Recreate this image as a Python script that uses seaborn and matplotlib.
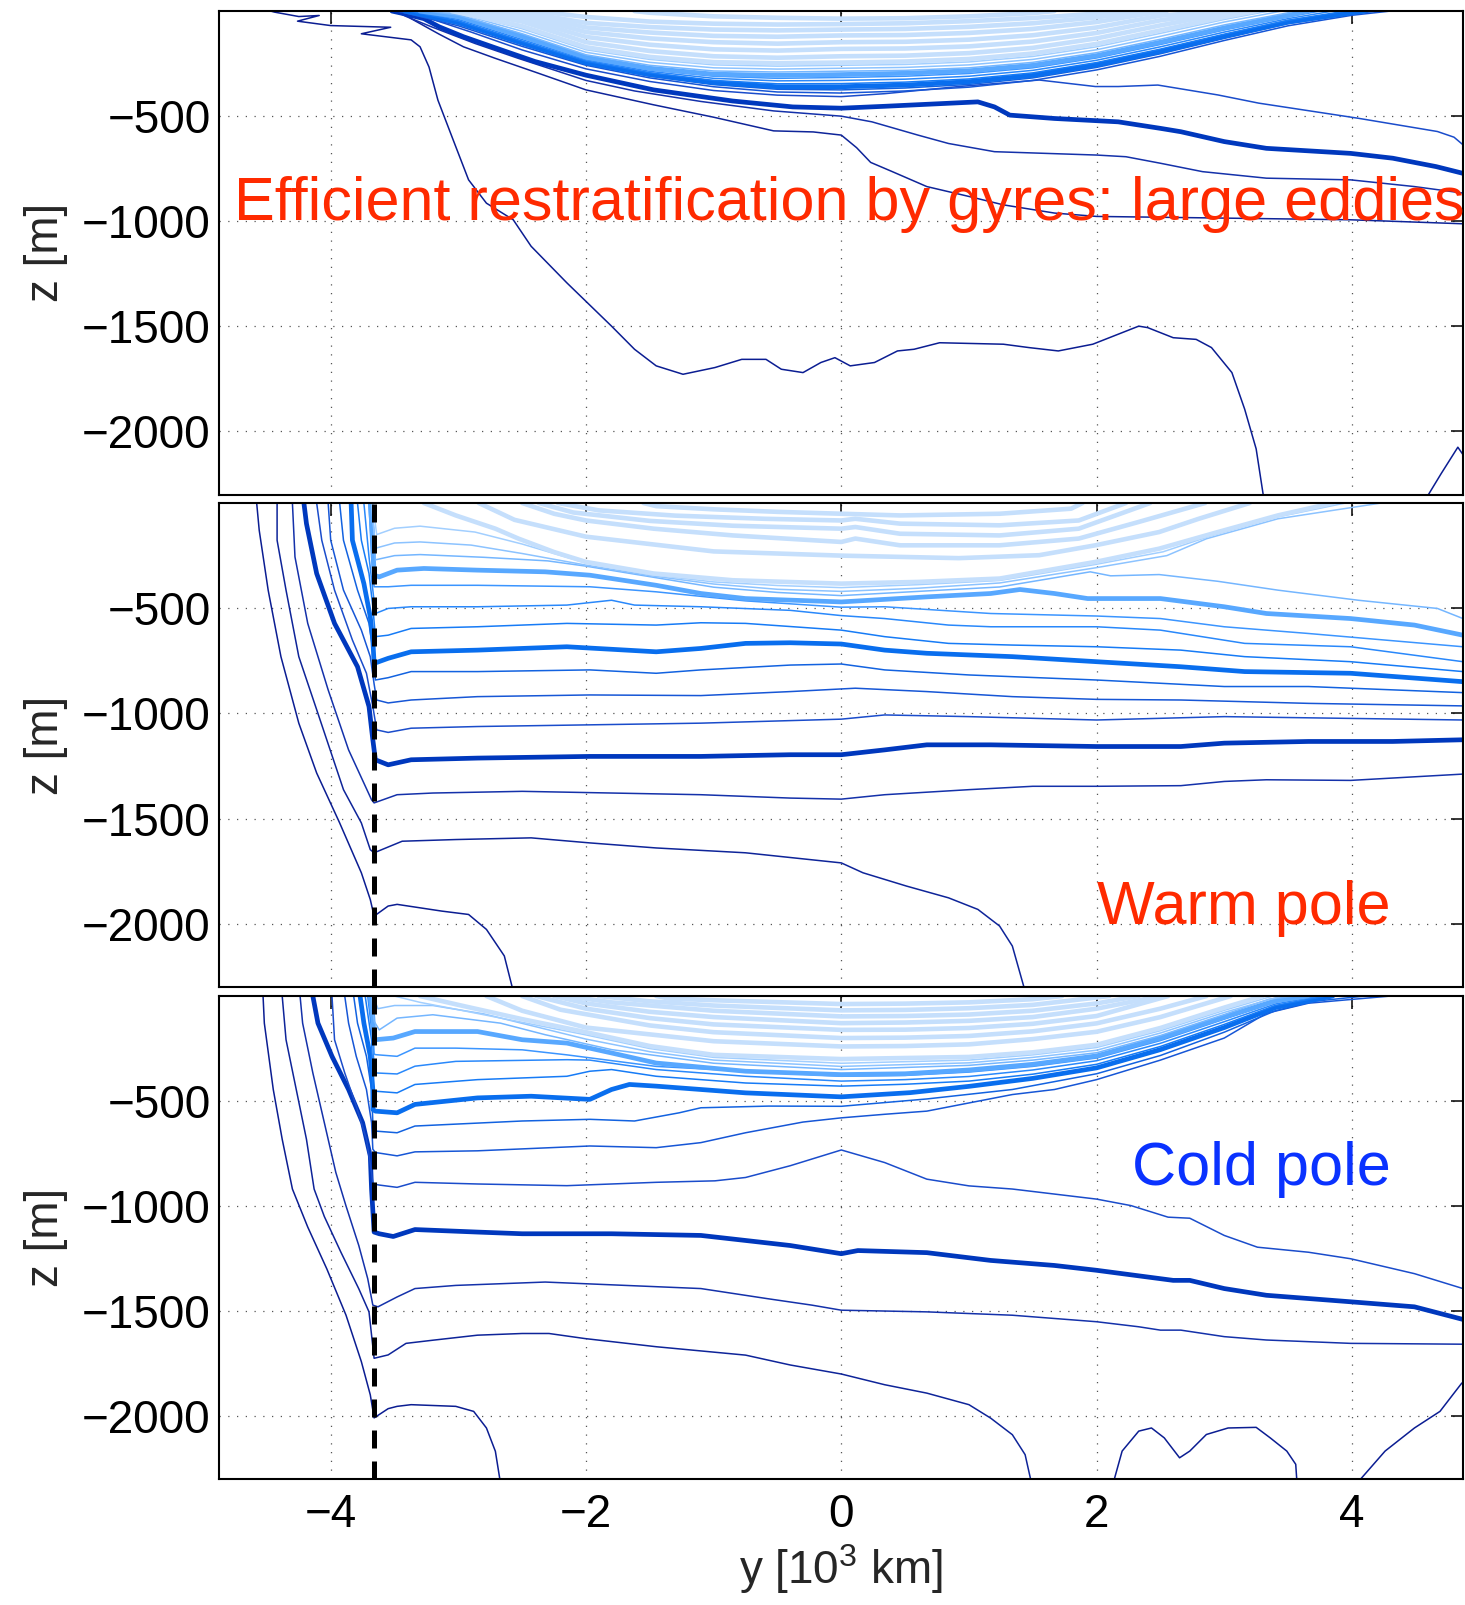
import numpy as np
import pandas as pd
import seaborn as sns
import matplotlib.pyplot as plt

# contour lines: (y [1e3 km], z [m]) points, one list per line
# level numbers go from deep (-1) to shallow (21)

# ---- top panel ----
P1_LEVELS = [-1, -1, 0, 1, 2, 3]
P1_LINES = [
    [(4.58, -2320), (4.70, -2200), (4.83, -2075), (4.87, -2110)],
    [(-4.47, 0), (-4.44, -5), (-4.25, -26), (-4.09, -21), (-4.26, -48), (-4.0, -69), (-3.53, -77),
     (-3.76, -108), (-3.37, -137), (-3.30, -170), (-3.23, -266), (-3.16, -424), (-3.04, -614),
     (-2.92, -803), (-2.78, -914), (-2.57, -993), (-2.43, -1119), (-2.15, -1293), (-1.80, -1499),
     (-1.62, -1609), (-1.45, -1688), (-1.24, -1728), (-0.99, -1696), (-0.78, -1657), (-0.59, -1657),
     (-0.47, -1704), (-0.30, -1720), (-0.16, -1672), (-0.05, -1649), (0.07, -1688), (0.26, -1672),
     (0.44, -1617), (0.57, -1609), (0.77, -1578), (1.27, -1585), (1.47, -1601), (1.70, -1617),
     (1.97, -1585), (2.33, -1499), (2.40, -1506), (2.60, -1554), (2.78, -1562), (2.90, -1601),
     (3.06, -1720), (3.16, -1894), (3.25, -2083), (3.31, -2320)],
    [(-3.45, 0), (-3.37, -36), (-3.15, -110), (-2.96, -170), (-2.71, -225), (-2.40, -290), (-2.0, -375),
     (-1.47, -446), (-1.0, -505), (-0.53, -570), (-0.22, -575), (0.0, -590), (0.12, -650), (0.23, -720),
     (0.40, -764), (0.67, -835), (1.0, -882), (1.27, -922), (1.67, -961), (2.0, -977), (3.0, -985),
     (3.99, -993), (4.87, -1012)],
    [(-3.50, 0), (-3.40, -28), (-3.21, -75), (-2.87, -154), (-2.53, -225), (-2.0, -330), (-1.62, -380),
     (-1.10, -430), (-0.53, -475), (0.0, -500), (0.24, -527), (0.60, -590), (0.84, -630), (1.20, -669),
     (2.0, -685), (2.23, -693), (2.50, -724), (2.83, -764), (3.33, -795), (3.99, -803), (4.49, -835),
     (4.87, -866)],
    [(-3.52, 0), (-3.43, -12), (-3.27, -36), (-3.15, -75), (-2.96, -122), (-2.71, -175), (-2.40, -240),
     (-2.0, -305), (-1.47, -375), (-0.85, -428), (-0.38, -456), (0.0, -462), (0.34, -453), (1.07, -432),
     (1.20, -456), (1.32, -495), (1.67, -511), (2.17, -527), (2.50, -558), (2.66, -574), (3.0, -621),
     (3.33, -653), (3.99, -677), (4.32, -700), (4.66, -740), (4.87, -772)],
    [(-3.48, 0), (-3.2, -40), (-2.9, -100), (-2.5, -185), (-2.0, -275), (-1.5, -335), (-1.0, -378),
     (-0.5, -400), (0.0, -407), (0.34, -393), (0.92, -359), (1.55, -328), (1.99, -359), (2.17, -359),
     (2.48, -352), (2.95, -399), (3.27, -438), (4.05, -510), (4.67, -573), (4.80, -600), (4.87, -636)],
]

# the packed upper lines of the top panel, z at fixed y columns (None = above the surface)
P1_BUNDLE_X = [-3.0, -2.5, -2.0, -1.5, -1.0, -0.5, 0.0, 0.5, 1.0, 1.5, 2.0, 2.5, 3.0, 3.5, 4.0]
P1_BUNDLE_LEVELS = list(range(4, 22))
P1_BUNDLE_WEST = [-3.47, -3.45, -3.42, -3.39, -3.36, -3.33, -3.30, -3.25, -3.20, -3.15, -3.05,
                  -2.95, -2.85, -2.70, -2.62, -2.57, -2.40, -1.62]
P1_BUNDLE_EAST = [4.30, 4.20, 4.10, 3.95, 3.85, 3.75, 3.65, 3.55, 3.45, 3.35, 3.25,
                  3.15, 3.05, 2.95, 2.55, 2.39, 2.27, 1.67]
P1_BUNDLE_Z = [
    [-70, -168, -258, -318, -360, -385, -390, -380, -362, -330, -280, -215, -140, -70, -20],
    [-62, -160, -252, -310, -350, -372, -375, -366, -349, -318, -268, -203, -130, -60, -14],
    [-55, -152, -246, -302, -340, -360, -360, -352, -336, -306, -256, -192, -120, -52, -8],
    [-48, -144, -238, -294, -330, -346, -345, -338, -323, -294, -245, -181, -110, -44, None],
    [-40, -136, -232, -287, -320, -332, -330, -324, -310, -282, -234, -170, -100, -36, None],
    [-33, -128, -226, -280, -310, -320, -316, -310, -297, -270, -223, -159, -90, -28, None],
    [-26, -120, -220, -272, -300, -306, -302, -296, -284, -258, -212, -148, -80, -20, None],
    [-19, -108, -208, -258, -285, -290, -286, -282, -270, -244, -198, -134, -66, -8, None],
    [-12, -96, -196, -244, -270, -276, -272, -268, -256, -230, -184, -120, -52, None, None],
    [-6, -84, -184, -230, -256, -262, -258, -254, -242, -216, -170, -106, -40, None, None],
    [None, -72, -172, -218, -243, -248, -245, -240, -228, -202, -156, -92, -28, None, None],
    [None, -50, -148, -190, -215, -222, -215, -212, -200, -175, -130, -68, -12, None, None],
    [None, -35, -123, -160, -182, -188, -180, -178, -168, -145, -104, -44, -4, None, None],
    [None, -20, -100, -130, -148, -155, -148, -146, -136, -115, -78, -22, None, None, None],
    [None, -8, -78, -102, -118, -122, -116, -114, -104, -85, -52, -3, None, None, None],
    [None, -5, -56, -76, -88, -92, -88, -85, -75, -58, -30, None, None, None, None],
    [None, None, -28, -50, -60, -64, -62, -58, -48, -33, -12, None, None, None, None],
    [None, None, None, -8, -25, -32, -36, -34, -25, -10, None, None, None, None, None],
]

# ---- middle panel (warm pole) ----
P2_LEVELS = [-1, 0, 1, 2, 3, 4, 5, 6, 7, 8, 9, 10, 11, 12, 13, 14, 15, 16, 17, 18, 19]
P2_LINES = [
    [(-4.58, 0), (-4.56, -130), (-4.49, -414), (-4.39, -730), (-4.25, -1046), (-4.11, -1283),
     (-3.93, -1520), (-3.76, -1757), (-3.69, -1884), (-3.66, -1963), (-3.55, -1915), (-3.48, -1907),
     (-3.13, -1939), (-2.92, -1955), (-2.78, -2026), (-2.64, -2152), (-2.57, -2320)],
    [(-4.42, 0), (-4.42, -177), (-4.35, -414), (-4.25, -730), (-4.10, -1000), (-3.90, -1362),
     (-3.76, -1520), (-3.69, -1647), (-3.66, -1662), (-3.44, -1607), (-3.02, -1599), (-2.43, -1591),
     (-1.97, -1615), (-1.45, -1639), (-0.75, -1662), (0.0, -1710), (0.17, -1757), (0.51, -1820),
     (0.84, -1876), (1.07, -1931), (1.24, -2010), (1.34, -2105), (1.44, -2320)],
    [(-4.30, 0), (-4.28, -256), (-4.18, -572), (-4.02, -888), (-3.86, -1173), (-3.74, -1331),
     (-3.68, -1410), (-3.66, -1425), (-3.48, -1386), (-3.20, -1378), (-2.50, -1370), (-1.80, -1378),
     (-1.10, -1386), (-0.40, -1402), (0.0, -1407), (0.34, -1386), (1.0, -1362), (1.50, -1346),
     (2.0, -1346), (2.66, -1343), (3.0, -1323), (3.33, -1315), (3.99, -1318), (4.87, -1288)],
    [(-4.21, 0), (-4.19, -98), (-4.11, -335), (-3.97, -572), (-3.79, -778), (-3.70, -967),
     (-3.67, -1125), (-3.65, -1220), (-3.55, -1244), (-3.37, -1220), (-2.85, -1212), (-1.97, -1204),
     (-1.10, -1204), (-0.40, -1196), (0.0, -1196), (0.34, -1173), (0.67, -1149), (1.17, -1149),
     (2.0, -1157), (2.66, -1157), (3.0, -1141), (3.66, -1133), (4.32, -1133), (4.87, -1125)],
    [(-4.11, 0), (-4.07, -177), (-3.97, -414), (-3.83, -651), (-3.72, -809), (-3.67, -967),
     (-3.64, -1078), (-3.55, -1090), (-3.37, -1070), (-2.85, -1062), (-1.97, -1054), (-1.10, -1046),
     (0.0, -1027), (0.34, -1007), (1.0, -1015), (2.0, -1031), (3.0, -1015), (4.87, -1031)],
    [(-4.02, 0), (-4.0, -177), (-3.90, -414), (-3.76, -604), (-3.69, -730), (-3.66, -860),
     (-3.64, -936), (-3.55, -950), (-3.37, -936), (-2.85, -920), (-1.97, -912), (-1.10, -915),
     (-0.40, -896), (0.11, -880), (0.67, -896), (1.34, -920), (2.0, -933), (2.66, -936),
     (3.66, -952), (4.87, -964)],
    [(-3.93, 0), (-3.90, -177), (-3.79, -414), (-3.70, -572), (-3.67, -699), (-3.65, -841),
     (-3.55, -830), (-3.37, -801), (-2.85, -801), (-1.97, -793), (-1.45, -809), (-1.10, -793),
     (-0.40, -770), (0.0, -765), (0.34, -793), (1.0, -817), (2.0, -841), (3.0, -872), (3.66, -872),
     (4.87, -901)],
    [(-3.84, 0), (-3.83, -177), (-3.74, -383), (-3.69, -541), (-3.67, -651), (-3.66, -762),
     (-3.55, -738), (-3.37, -707), (-2.85, -699), (-2.15, -683), (-1.45, -707), (-1.10, -691),
     (-0.75, -667), (-0.40, -664), (0.0, -670), (0.34, -699), (0.67, -714), (1.34, -730), (2.0, -754),
     (2.66, -778), (3.16, -801), (3.99, -809), (4.87, -849)],
    [(-3.79, 0), (-3.76, -177), (-3.70, -335), (-3.67, -493), (-3.65, -635), (-3.55, -628),
     (-3.37, -596), (-2.85, -588), (-2.15, -572), (-1.45, -580), (-1.10, -569), (-0.75, -572),
     (0.0, -604), (0.34, -635), (0.84, -667), (1.34, -675), (2.0, -683), (2.66, -699), (3.16, -730),
     (3.99, -754), (4.87, -801)],
    [(-3.74, 0), (-3.70, -256), (-3.67, -414), (-3.65, -525), (-3.55, -501), (-3.37, -493),
     (-2.85, -493), (-2.15, -485), (-1.80, -462), (-1.62, -485), (-1.10, -493), (-0.40, -510),
     (0.0, -535), (0.34, -549), (0.84, -580), (1.17, -588), (2.0, -588), (2.50, -604), (3.16, -667),
     (3.99, -683), (4.87, -754)],
    [(-3.70, 0), (-3.68, -256), (-3.66, -398), (-3.55, -398), (-3.37, -391), (-2.85, -391),
     (-1.97, -398), (-1.45, -422), (-0.75, -465), (0.0, -495), (0.34, -493), (1.17, -525),
     (2.0, -537), (2.50, -549), (3.0, -588), (3.66, -620), (4.87, -683)],
    [(-3.69, 0), (-3.67, -177), (-3.66, -343), (-3.62, -351), (-3.48, -319), (-3.27, -311),
     (-2.85, -319), (-2.32, -327), (-1.97, -343), (-1.45, -391), (-1.10, -430), (-0.75, -454),
     (0.0, -470), (0.67, -446), (1.17, -430), (1.40, -411), (1.67, -430), (1.93, -454), (2.50, -454),
     (3.0, -493), (3.33, -525), (3.99, -549), (4.49, -580), (4.87, -628)],
    [(-3.68, 0), (-3.66, -150), (-3.65, -270), (-3.5, -250), (-3.3, -245), (-2.8, -258), (-2.3, -275),
     (-2.0, -300), (-1.5, -350), (-1.0, -400), (-0.5, -425), (0.0, -440), (0.6, -420), (1.24, -399),
     (1.95, -327), (2.11, -346), (2.49, -340), (2.95, -372), (3.42, -414), (4.05, -462), (4.67, -501),
     (4.87, -549)],
    [(-3.68, 0), (-3.65, -215), (-3.5, -190), (-3.3, -185), (-2.9, -200), (-2.5, -240), (-2.0, -295),
     (-1.5, -345), (-1.0, -385), (-0.5, -410), (0.0, -420), (0.6, -405), (1.24, -380), (1.99, -308),
     (2.55, -250), (2.86, -170), (3.42, -75), (4.23, 0)],
    [(-3.67, 0), (-3.64, -150), (-3.5, -120), (-3.3, -110), (-2.87, -138), (-2.5, -195), (-2.0, -285),
     (-1.5, -340), (-1.0, -375), (-0.5, -392), (0.0, -402), (0.6, -388), (1.24, -368), (1.99, -292),
     (2.52, -232), (2.9, -155), (3.42, -66), (3.95, 0)],
    [(-3.27, 0), (-3.02, -59), (-2.71, -122), (-2.53, -169), (-2.25, -233), (-2.0, -280),
     (-1.47, -335), (-0.85, -367), (0.0, -383), (0.6, -375), (1.24, -359), (1.99, -280),
     (2.49, -217), (2.95, -138), (3.42, -59), (3.85, 0)],
    [(-2.84, 0), (-2.56, -80), (-2.0, -160), (-1.0, -230), (0.0, -250), (0.92, -262), (1.55, -248),
     (1.99, -201), (2.49, -138), (2.80, -75), (3.2, 0)],
    [(-2.50, 0), (-2.25, -51), (-2.0, -83), (-1.47, -122), (-0.85, -154), (0.0, -185), (0.11, -169),
     (0.46, -201), (1.24, -201), (1.86, -169), (2.33, -90), (2.85, 0)],
    [(-2.37, 0), (-2.1, -45), (-1.5, -85), (-0.85, -108), (0.0, -122), (0.11, -114), (0.46, -146),
     (1.24, -154), (1.86, -122), (2.42, 0)],
    [(-2.22, 0), (-1.9, -35), (-1.3, -60), (-0.6, -75), (0.0, -83), (0.11, -75), (0.46, -98),
     (1.24, -106), (1.86, -83), (2.23, 0)],
    [(-1.55, 0), (-1.45, -15), (-1.0, -30), (-0.5, -42), (0.0, -51), (0.46, -59), (1.24, -51),
     (1.80, -27), (1.89, 0)],
]

# ---- bottom panel (cold pole) ----
P3_LEVELS = [-1, -1, -1, 0, 1, 2, 3, 4, 5, 6, 7, 8, 9, 10, 11, 12, 13, 14,
             15, 16, 17, 18, 19, 20, 21]
P3_LINES = [
    [(2.13, -2320), (2.20, -2167), (2.33, -2072), (2.43, -2057), (2.53, -2104), (2.65, -2199),
     (2.73, -2167), (2.86, -2088), (3.03, -2057), (3.25, -2054), (3.36, -2104), (3.49, -2167),
     (3.56, -2230), (3.57, -2320)],
    [(4.04, -2320), (4.26, -2167), (4.49, -2057), (4.69, -1978), (4.79, -1899), (4.86, -1844),
     (4.88, -1836)],
    [(-4.53, 0), (-4.52, -129), (-4.45, -445), (-4.38, -682), (-4.30, -919), (-4.18, -1100),
     (-4.03, -1300), (-3.88, -1520), (-3.76, -1741), (-3.69, -1899), (-3.66, -2009), (-3.55, -1965),
     (-3.48, -1954), (-3.37, -1946), (-3.02, -1954), (-2.88, -1978), (-2.78, -2057), (-2.71, -2168),
     (-2.67, -2320)],
    [(-4.38, 0), (-4.35, -208), (-4.27, -445), (-4.19, -682), (-4.13, -919), (-4.05, -1050),
     (-3.92, -1220), (-3.78, -1394), (-3.70, -1504), (-3.66, -1725), (-3.55, -1709), (-3.41, -1654),
     (-3.20, -1639), (-2.85, -1615), (-2.50, -1607), (-2.29, -1607), (-2.01, -1631), (-1.45, -1670),
     (-0.75, -1710), (-0.40, -1757), (0.0, -1800), (0.34, -1851), (0.67, -1891), (1.0, -1946),
     (1.17, -2010), (1.34, -2089), (1.44, -2184), (1.49, -2320)],
    [(-4.24, 0), (-4.22, -129), (-4.14, -366), (-4.05, -603), (-3.96, -840), (-3.88, -1000),
     (-3.78, -1188), (-3.71, -1346), (-3.67, -1472), (-3.63, -1480), (-3.48, -1433), (-3.34, -1393),
     (-3.02, -1378), (-2.32, -1362), (-1.10, -1393), (-0.58, -1441), (-0.23, -1472), (0.0, -1496),
     (0.67, -1504), (1.34, -1520), (2.0, -1551), (2.33, -1575), (2.50, -1591), (2.66, -1591),
     (3.0, -1622), (3.33, -1638), (3.99, -1654), (4.87, -1658)],
    [(-4.14, 0), (-4.10, -129), (-3.99, -287), (-3.86, -445), (-3.75, -603), (-3.69, -761),
     (-3.68, -919), (-3.66, -1124), (-3.62, -1132), (-3.51, -1145), (-3.34, -1112), (-2.85, -1124),
     (-2.50, -1132), (-1.80, -1132), (-1.10, -1140), (-0.40, -1188), (0.0, -1227), (0.13, -1212),
     (0.67, -1222), (1.17, -1259), (1.67, -1283), (2.0, -1306), (2.60, -1354), (2.73, -1354),
     (3.0, -1393), (3.33, -1425), (3.99, -1456), (4.49, -1480), (4.87, -1540)],
    [(-3.99, 0), (-3.97, -208), (-3.89, -366), (-3.80, -524), (-3.72, -682), (-3.68, -840),
     (-3.67, -895), (-3.62, -900), (-3.48, -911), (-3.34, -887), (-2.85, -895), (-2.15, -903),
     (-1.45, -887), (-0.99, -880), (-0.75, -864), (-0.40, -808), (0.0, -733), (0.34, -793),
     (0.67, -872), (1.0, -904), (1.34, -919), (1.67, -943), (2.0, -967), (2.27, -998), (2.56, -1053),
     (2.73, -1058), (3.0, -1140), (3.26, -1196), (3.66, -1220), (3.99, -1251), (4.49, -1322),
     (4.87, -1393)],
    [(-3.89, 0), (-3.86, -129), (-3.80, -287), (-3.72, -445), (-3.68, -603), (-3.67, -729),
     (-3.65, -745), (-3.48, -761), (-3.34, -742), (-2.85, -737), (-1.97, -714), (-1.45, -722),
     (-1.10, -698), (-0.75, -651), (-0.3, -600), (0.0, -580), (0.34, -563), (0.67, -548), (1.0, -509),
     (1.34, -469), (1.67, -445), (2.0, -398), (2.5, -305), (3.0, -200), (3.33, -82), (3.66, -34),
     (3.96, -18), (4.30, 0)],
    [(-3.82, 0), (-3.79, -129), (-3.72, -287), (-3.68, -445), (-3.67, -600), (-3.65, -643),
     (-3.48, -651), (-3.34, -619), (-2.50, -595), (-1.97, -587), (-1.62, -595), (-1.27, -556),
     (-1.10, -532), (-0.57, -524), (0.0, -525), (0.67, -490), (1.34, -445), (2.0, -370), (2.5, -283),
     (3.0, -172), (3.4, -70), (3.7, -25), (4.1, 0)],
    [(-3.77, 0), (-3.74, -129), (-3.69, -287), (-3.67, -445), (-3.67, -540), (-3.65, -548),
     (-3.48, -556), (-3.34, -516), (-2.85, -485), (-2.43, -477), (-1.97, -492), (-1.80, -445),
     (-1.66, -421), (-1.45, -429), (-0.75, -461), (0.0, -480), (0.54, -460), (1.0, -430),
     (1.5, -392), (2.0, -342), (2.5, -255), (3.0, -150), (3.4, -55), (3.85, 0)],
    [(-3.73, 0), (-3.68, -208), (-3.67, -445), (-3.65, -453), (-3.48, -461), (-3.34, -421),
     (-2.85, -398), (-2.15, -382), (-1.97, -358), (-1.80, -350), (-1.45, -382), (-0.75, -414),
     (0.0, -429), (0.5, -420), (1.0, -405), (1.5, -372), (2.0, -325), (2.5, -240), (3.0, -135),
     (3.4, -45), (3.8, 0)],
    [(-3.71, 0), (-3.67, -208), (-3.66, -360), (-3.65, -366), (-3.48, -371), (-3.34, -334),
     (-3.02, -311), (-2.15, -303), (-1.97, -305), (-1.45, -350), (-0.75, -382), (0.0, -405),
     (0.5, -398), (1.0, -383), (1.5, -352), (2.0, -308), (2.5, -225), (3.0, -122), (3.4, -38),
     (3.75, 0)],
    [(-3.70, 0), (-3.67, -150), (-3.66, -275), (-3.65, -279), (-3.48, -287), (-3.34, -248),
     (-3.02, -248), (-2.50, -256), (-2.15, -280), (-1.45, -335), (0.0, -382), (0.5, -378),
     (1.0, -362), (1.5, -335), (2.0, -295), (2.5, -212), (3.0, -110), (3.4, -30), (3.7, 0)],
    [(-3.69, 0), (-3.67, -100), (-3.66, -200), (-3.65, -208), (-3.51, -200), (-3.34, -169),
     (-2.85, -169), (-2.50, -208), (-2.15, -224), (-1.80, -271), (-1.45, -319), (-0.75, -358),
     (0.0, -374), (0.5, -370), (1.0, -352), (1.5, -325), (2.0, -285), (2.5, -200), (3.0, -100),
     (3.4, -22), (3.65, 0)],
    [(-3.68, 0), (-3.66, -120), (-3.62, -161), (-3.48, -105), (-3.20, -89), (-2.67, -129),
     (-2.32, -184), (-1.80, -255), (-1.0, -320), (0.0, -350), (1.0, -330), (1.5, -305), (2.0, -270),
     (2.5, -188), (3.0, -88), (3.35, -15), (3.55, 0)],
    [(-3.67, 0), (-3.63, -60), (-3.5, -45), (-3.2, -45), (-2.8, -85), (-2.3, -160), (-2.0, -205),
     (-1.5, -265), (-1.0, -305), (0.0, -335), (1.0, -318), (1.5, -292), (2.0, -258), (2.5, -176),
     (3.0, -78), (3.45, 0)],
    [(-3.5, 0), (-3.3, -30), (-3.0, -65), (-2.5, -125), (-2.0, -185), (-1.5, -250), (-1.0, -292),
     (0.0, -320), (1.0, -305), (1.5, -280), (2.0, -245), (2.5, -165), (3.0, -68), (3.38, 0)],
    [(-3.3, 0), (-3.0, -42), (-2.5, -110), (-2.0, -172), (-1.5, -238), (-1.0, -280), (0.0, -300),
     (1.0, -290), (1.5, -268), (2.0, -232), (2.5, -152), (3.0, -55), (3.3, 0)],
    [(-2.78, 0), (-2.5, -70), (-2.0, -150), (-1.0, -215), (0.0, -240), (0.5, -238), (1.0, -230),
     (1.5, -205), (2.0, -170), (2.5, -100), (3.05, 0)],
    [(-2.50, 0), (-2.2, -65), (-1.5, -140), (-1.0, -172), (0.0, -200), (0.5, -198), (1.0, -190),
     (1.5, -168), (2.0, -130), (2.5, -60), (2.86, 0)],
    [(-2.39, 0), (-2.0, -60), (-1.5, -105), (-1.0, -135), (0.0, -161), (0.5, -160), (1.0, -152),
     (1.5, -132), (2.0, -95), (2.56, 0)],
    [(-2.25, 0), (-2.0, -35), (-1.5, -75), (-1.0, -100), (0.0, -129), (0.5, -126), (1.0, -118),
     (1.5, -100), (2.0, -60), (2.50, 0)],
    [(-2.15, 0), (-1.8, -30), (-1.0, -70), (0.0, -97), (0.5, -95), (1.0, -88), (1.5, -70),
     (2.0, -35), (2.33, 0)],
    [(-1.90, 0), (-1.5, -25), (-1.0, -45), (0.0, -68), (0.5, -66), (1.0, -58), (1.5, -42), (2.1, 0)],
    [(-1.45, 0), (-1.35, -12), (-1.0, -20), (0.0, -38), (0.5, -36), (1.0, -30), (1.5, -15), (1.73, 0)],
]

WALL_Y = -3.66
Y_TICKS = [-2000, -1500, -1000, -500]
X_TICKS = [-4, -2, 0, 2, 4]
TITLES = ['Efficient restratification by gyres: large eddies', 'Warm pole', 'Cold pole']
TITLE_POS = [(-4.76, -995), (2.0, -2000), (2.28, -900)]

# bundle table -> point lists
for lev, w, e, row in zip(P1_BUNDLE_LEVELS, P1_BUNDLE_WEST, P1_BUNDLE_EAST, P1_BUNDLE_Z):
    pts = [(w, 0)] + [(x, z) for x, z in zip(P1_BUNDLE_X, row) if z is not None] + [(e, 0)]
    P1_LEVELS.append(lev)
    P1_LINES.append(pts)

sns.set_theme(style='white')
plt.rcParams['font.family'] = ['Liberation Sans', 'DejaVu Sans']
plt.rcParams['mathtext.fontset'] = 'custom'
plt.rcParams['mathtext.rm'] = 'Liberation Sans'
plt.rcParams['mathtext.it'] = 'Liberation Sans'

COLORS = {-1: '#0b1d92', 0: '#0e2499', 1: '#1431aa', 2: '#0038bd', 3: '#1a4ccb',
          4: '#1656d6', 5: '#1262e0', 6: '#096eee', 7: '#167bf6', 8: '#2988fb',
          9: '#3b95ff', 10: '#58a8ff', 11: '#74b6ff', 12: '#8cc3ff', 13: '#a2cfff'}
LIGHT = '#c5dffc'
TEXT_COLORS = ['#ff2a00', '#ff2a00', '#0a32ff']


def style(level):
    if level >= 14:
        return LIGHT, 3.3
    if level % 4 == 2:
        return COLORS[level], 3.4
    return COLORS[level], 1.1


fig = plt.figure(figsize=(14.65, 16.05), dpi=100)
boxes = [[0.1495, 0.6919, 0.8491, 0.3012],
         [0.1495, 0.3850, 0.8491, 0.3016],
         [0.1495, 0.0785, 0.8491, 0.3009]]
panels = [(P1_LEVELS, P1_LINES), (P2_LEVELS, P2_LINES), (P3_LEVELS, P3_LINES)]

for i, (box, (levels, lines)) in enumerate(zip(boxes, panels)):
    ax = fig.add_axes(box)
    order = sorted(range(len(levels)), key=lambda k: levels[k])
    for k in order:
        col, lw = style(levels[k])
        df = pd.DataFrame(lines[k], columns=['y', 'z'])
        sns.lineplot(data=df, x='y', y='z', ax=ax, sort=False, estimator=None,
                     color=col, linewidth=lw, solid_capstyle='round',
                     solid_joinstyle='round', legend=False)
    if i > 0:
        ax.axvline(WALL_Y, color='black', linewidth=3.6, linestyle=(0, (3.6, 2.6)), zorder=5)
    ax.set_xlim(-4.875, 4.87)
    ax.set_ylim(-2300, 0)
    ax.set_xticks(X_TICKS)
    ax.set_yticks(Y_TICKS)
    ax.grid(True, color='#555555', linestyle=(0, (1, 6)), linewidth=0.9)
    ax.tick_params(axis='both', direction='in', length=9, width=1.1, top=True, right=True,
                   labelsize=33, colors='black')
    ax.tick_params(axis='y', pad=6)
    ax.tick_params(axis='x', pad=10)
    for s in ax.spines.values():
        s.set_linewidth(1.5)
        s.set_color('black')
    ax.set_ylabel('z [m]', fontsize=33, labelpad=10)
    if i < 2:
        ax.tick_params(labelbottom=False)
        ax.set_xlabel('')
    else:
        ax.set_xlabel(r'y [10$^{\mathrm{3}}$ km]', fontsize=33, labelpad=4)
    tx, tz = TITLE_POS[i]
    ax.text(tx, tz, TITLES[i], color=TEXT_COLORS[i], fontsize=44, ha='left',
            va='baseline', zorder=10)

fig.savefig('out.png', dpi=100)
